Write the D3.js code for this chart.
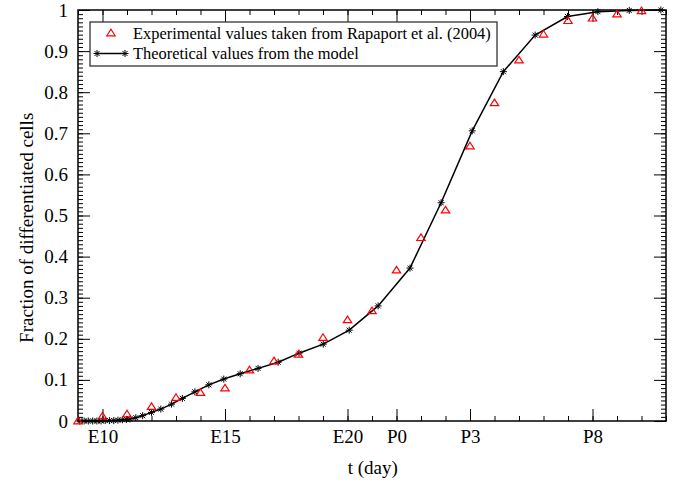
<!DOCTYPE html>
<html>
<head>
<meta charset="utf-8">
<script src="https://cdn.jsdelivr.net/npm/d3@7"></script>
<style>
  body { margin: 0; background: #fff; }
  svg text { font-family: "Liberation Serif", "Times New Roman", serif; }
</style>
</head>
<body>
<div id="chart"></div>
<script>
// experimental points (Rapaport et al. 2004), t in days (E9 = 9, P0 = 22)
var expT = [9, 10, 11, 12, 13, 14, 15, 16, 17, 18, 19, 20, 21, 22, 23, 24, 25, 26, 27, 28, 29, 30, 31, 32];
var expV = [0, 0.012, 0.017, 0.035, 0.057, 0.069, 0.08, 0.124, 0.146, 0.162, 0.203, 0.246, 0.268,
            0.367, 0.446, 0.513, 0.669, 0.774, 0.878, 0.941, 0.974, 0.98, 0.99, 0.998];

// model values
var modT = [9.07, 9.25, 9.42, 9.6, 9.77, 9.94, 10.11, 10.29, 10.46, 10.63, 10.81, 10.98, 11.12,
            11.36, 11.64, 12.0, 12.38, 12.82, 13.26, 13.77, 14.34, 14.95, 15.62, 16.35, 17.17,
            18.02, 19.01, 20.07, 21.25, 22.55, 23.82, 25.09, 26.36, 27.66, 28.98, 30.22, 31.5, 32.79];
var modV = [0, 0, 0, 0, 0, 0, 0.001, 0.001, 0.001, 0.002, 0.003, 0.004, 0.005,
            0.008, 0.013, 0.021, 0.029, 0.041, 0.055, 0.071, 0.088, 0.102, 0.115, 0.128, 0.143,
            0.165, 0.187, 0.221, 0.28, 0.372, 0.531, 0.706, 0.85, 0.939, 0.984, 0.996, 0.999, 1.0];

var xMajor = [10, 15, 20, 22, 25, 30];
var xMajorLabels = ["E10", "E15", "E20", "P0", "P3", "P8"];
var xMinor = d3.range(9, 34);
var yMajor = d3.range(0, 1.0001, 0.1);
var yMinor = d3.range(0, 101).map(function(i) { return i / 100; });

var serif = "'Liberation Serif', 'Times New Roman', serif";

var margin = {top: 10, right: 20, bottom: 64, left: 78},
    width = 686 - margin.left - margin.right,
    height = 485 - margin.top - margin.bottom;

var svg = d3.select("#chart")
    .append("svg")
    .attr("width", 686)
    .attr("height", 485)
    .append("g")
    .attr("transform", "translate(" + margin.left + "," + margin.top + ")");

var x = d3.scaleLinear().domain([9, 33]).range([0, width]);
var y = d3.scaleLinear().domain([0, 1]).range([height, 0]);

function styleAxis(g) {
    g.attr("font-family", serif);
    g.select(".domain").remove();
    g.selectAll("line").attr("stroke", "#000").attr("stroke-width", 1);
    g.selectAll("text").attr("fill", "#000").attr("font-size", 19);
}

// bottom
svg.append("g").attr("transform", "translate(0," + height + ")")
    .call(d3.axisBottom(x).tickValues(xMinor).tickSize(-5).tickFormat(""))
    .call(styleAxis);
svg.append("g").attr("transform", "translate(0," + height + ")")
    .call(d3.axisBottom(x).tickValues(xMajor).tickSize(-12).tickPadding(9)
        .tickFormat(function(d, i) { return xMajorLabels[i]; }))
    .call(styleAxis);
// top
svg.append("g")
    .call(d3.axisTop(x).tickValues(xMinor).tickSize(-5).tickFormat(""))
    .call(styleAxis);
svg.append("g")
    .call(d3.axisTop(x).tickValues(xMajor).tickSize(-12).tickFormat(""))
    .call(styleAxis);
// left
svg.append("g")
    .call(d3.axisLeft(y).tickValues(yMinor).tickSize(-5).tickFormat(""))
    .call(styleAxis);
svg.append("g")
    .call(d3.axisLeft(y).tickValues(yMajor).tickSize(-12).tickPadding(10)
        .tickFormat(function(d) { return d3.format("~g")(+d.toFixed(1)); }))
    .call(styleAxis);
// right
svg.append("g").attr("transform", "translate(" + width + ",0)")
    .call(d3.axisRight(y).tickValues(yMinor).tickSize(-5).tickFormat(""))
    .call(styleAxis);
svg.append("g").attr("transform", "translate(" + width + ",0)")
    .call(d3.axisRight(y).tickValues(yMajor).tickSize(-12).tickFormat(""))
    .call(styleAxis);

// frame
svg.append("rect")
    .attr("width", width).attr("height", height)
    .attr("fill", "none").attr("stroke", "#000").attr("stroke-width", 1.5);

// axis titles
svg.append("text")
    .attr("x", x(21.03)).attr("y", height + 53)
    .attr("text-anchor", "middle")
    .attr("font-size", 19)
    .text("t (day)");
svg.append("text")
    .attr("transform", "translate(" + (-45) + "," + y(0.47) + ") rotate(-90)")
    .attr("text-anchor", "middle")
    .attr("font-size", 19)
    .text("Fraction of differentiated cells");

var star = "M-3.5,0L3.5,0M0,-3.5L0,3.5M-2.5,-2.5L2.5,2.5M-2.5,2.5L2.5,-2.5";
var tri = "M0,-3.8L4.2,2.8L-4.2,2.8Z";

var model = modT.map(function(t, i) { return [t, modV[i]]; });
var exper = expT.map(function(t, i) { return [t, expV[i]]; });

svg.append("path")
    .datum(model)
    .attr("d", d3.line().x(function(d) { return x(d[0]); }).y(function(d) { return y(d[1]); }))
    .attr("fill", "none").attr("stroke", "#000").attr("stroke-width", 1.5);

svg.selectAll(".star").data(model).enter()
    .append("path")
    .attr("class", "star")
    .attr("transform", function(d) { return "translate(" + x(d[0]) + "," + y(d[1]) + ")"; })
    .attr("d", star)
    .attr("stroke", "#000").attr("stroke-width", 1);

svg.selectAll(".tri").data(exper).enter()
    .append("path")
    .attr("class", "tri")
    .attr("transform", function(d) { return "translate(" + x(d[0]) + "," + y(d[1]) + ")"; })
    .attr("d", tri)
    .attr("fill", "none").attr("stroke", "#ff0000").attr("stroke-width", 1.2);

// legend
var lg = svg.append("g").attr("transform", "translate(12,12)");
lg.append("rect")
    .attr("width", 407).attr("height", 44)
    .attr("fill", "#fff").attr("stroke", "#333").attr("stroke-width", 1.3);
lg.append("path").attr("transform", "translate(21,11)").attr("d", tri)
    .attr("fill", "none").attr("stroke", "#ff0000").attr("stroke-width", 1.2);
lg.append("text").attr("x", 43).attr("y", 16.5).attr("font-size", 16.4)
    .text("Experimental values taken from Rapaport et al. (2004)");
lg.append("line").attr("x1", 7).attr("x2", 35).attr("y1", 31.5).attr("y2", 31.5)
    .attr("stroke", "#000").attr("stroke-width", 1.5);
lg.selectAll(".lstar").data([7, 35]).enter().append("path")
    .attr("transform", function(d) { return "translate(" + d + ",31.5)"; })
    .attr("d", star).attr("stroke", "#000").attr("stroke-width", 1);
lg.append("text").attr("x", 43).attr("y", 37).attr("font-size", 16.4)
    .text("Theoretical values from the model");
</script>
</body>
</html>
